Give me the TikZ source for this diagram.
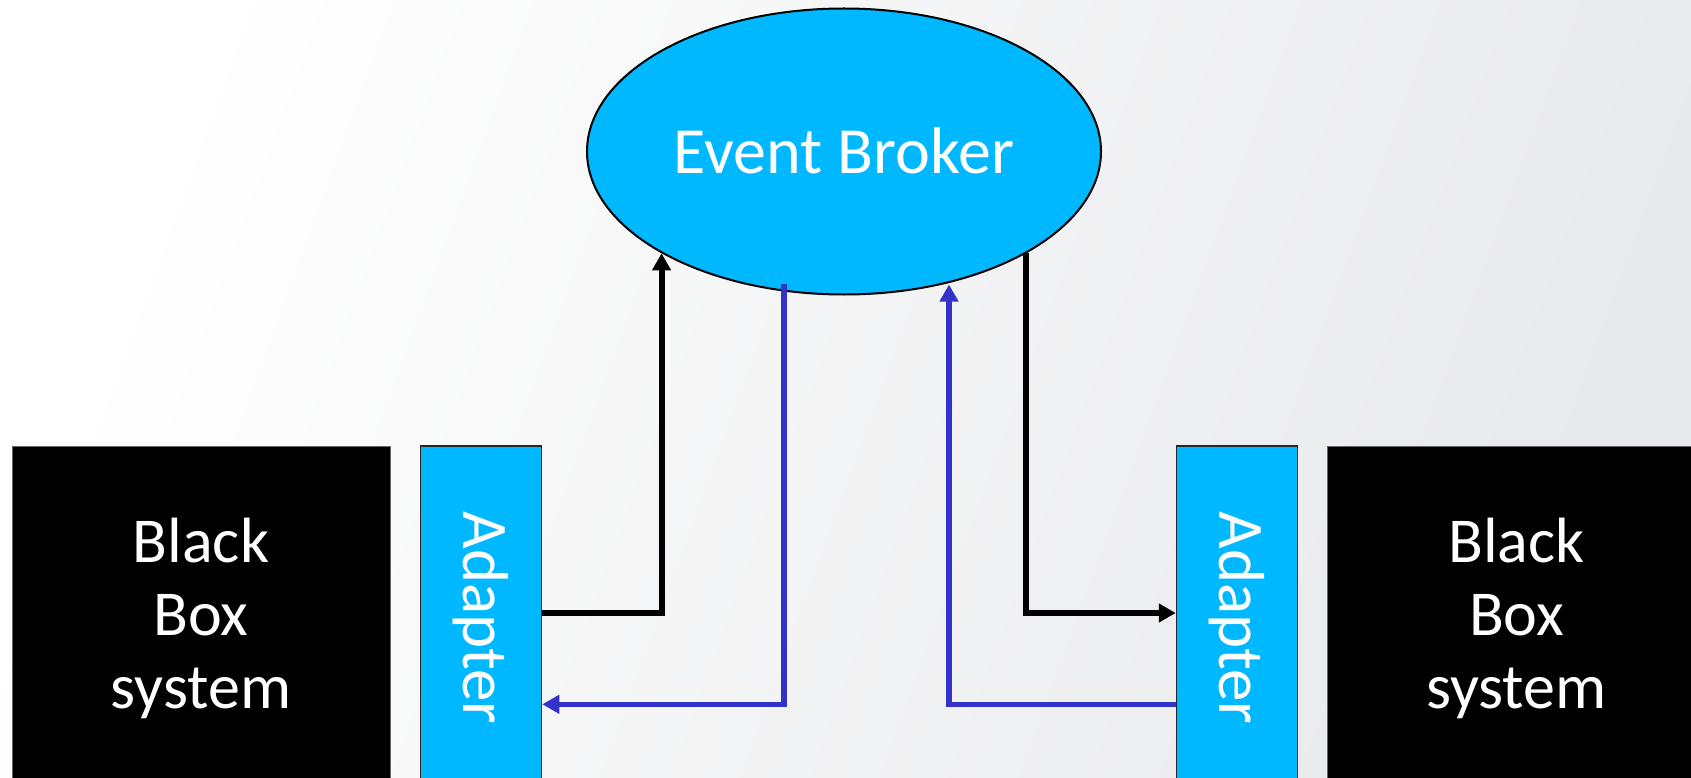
\documentclass[tikz,border=0pt]{standalone}
\usepackage{fontspec}
\setmainfont{Carlito}
\usetikzlibrary{shapes.geometric,arrows.meta,calc}
\definecolor{cyanfill}{RGB}{0,184,255}
\definecolor{linkblue}{RGB}{51,51,204}
\definecolor{bgA}{RGB}{255,255,255}
\definecolor{bgB}{RGB}{232,233,235}
\tikzset{
  brokernode/.style={ellipse, draw=black, line width=2pt, fill=cyanfill, minimum width=514pt, minimum height=286pt, inner sep=0pt, text=white, font=\fontsize{66}{79}\selectfont},
  adapternode/.style={rectangle, draw=black!85, line width=1.5pt, fill=cyanfill, minimum width=121pt, minimum height=344pt, inner sep=0pt, text=white, font=\fontsize{65}{78}\selectfont},
  blackbox/.style={rectangle, draw=black!60, line width=1pt, fill=black, minimum width=378pt, minimum height=344pt, inner sep=0pt, text=white, align=center, font=\fontsize{64}{73}\selectfont},
  blkline/.style={line width=6pt, draw=black, -{Triangle[length=17pt,width=18pt]}},
  blueline/.style={line width=5.6pt, draw=linkblue, -{Triangle[length=17pt,width=18pt]}}
}
\begin{document}
\begin{tikzpicture}[x=1pt,y=1pt]
\useasboundingbox (0,0) rectangle (1691,-778);
\clip (0,0) rectangle (1691,-778);
\shade[shading=axis, top color=bgA, bottom color=bgB, shading angle=70] (0,0) rectangle (1691,-778);

\node[brokernode] (eb) at (844,-151.5) {};
\node[text=white, font=\fontsize{66}{79}\selectfont, anchor=base] (ebt) at (844,-174) {Event Broker};

\node[blackbox] (bbl) at (201,-618) {Black\\Box\\system};
\node[adapternode] (al) at (481,-618) {\rotatebox{-90}{Adapter}};
\node[adapternode] (ar) at (1237,-618) {\rotatebox{-90}{Adapter}};
\node[blackbox] (bbr) at (1516.5,-618) {Black\\Box\\system};

\coordinate (yk) at (0,-613);
\coordinate (yb) at (0,-704.3);

\draw[blkline] (al.east |- yk) -| (eb.south west);
\draw[blkline] (eb.south east) |- (ar.west |- yk);
\draw[blueline] ([shift={(-60,12)}]eb.south) |- (al.east |- yb);
\draw[blueline] (ar.west |- yb) -| ([shift={(105,11)}]eb.south);
\end{tikzpicture}
\end{document}
